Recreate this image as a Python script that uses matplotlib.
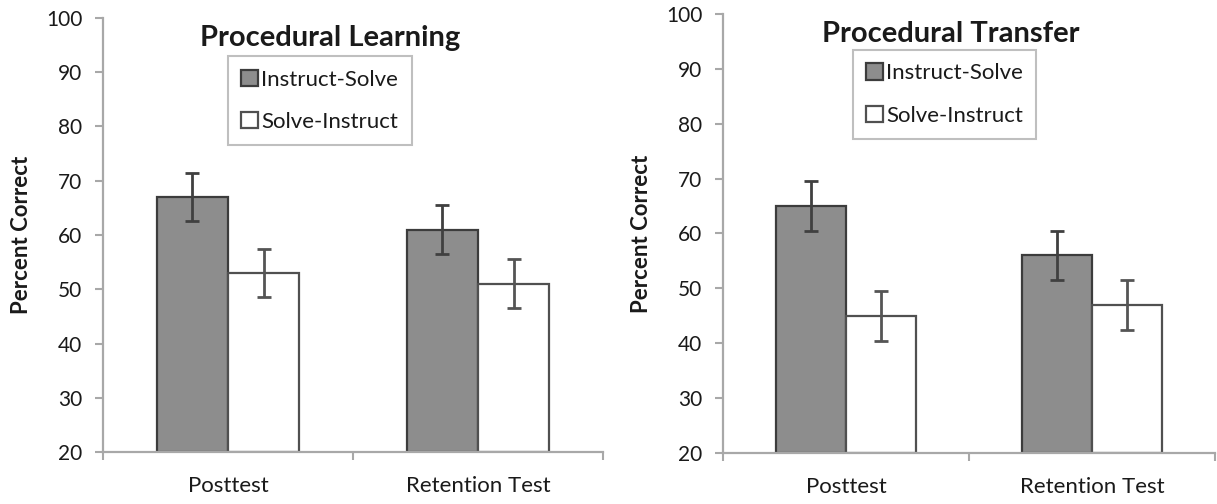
import numpy as np
import matplotlib.pyplot as plt

# data
categories = ["Posttest", "Retention Test"]
groups = ["Instruct-Solve", "Solve-Instruct"]
learning_is = [67, 61]
learning_si = [53, 51]
learning_err_is = [4.5, 4.5]
learning_err_si = [4.5, 4.5]
transfer_is = [65, 56]
transfer_si = [45, 47]
transfer_err_is = [4.5, 4.5]
transfer_err_si = [4.5, 4.5]

plt.rcParams['font.family'] = ['Lato', 'DejaVu Sans']

fig = plt.figure(figsize=(12.17, 5.04), dpi=100)
W, H = 1217, 504


def make_ax(x0, x1, ytop, ybot):
    return fig.add_axes([x0 / W, 1 - ybot / H, (x1 - x0) / W, (ybot - ytop) / H])


ax1 = make_ax(103, 603, 18, 452)
ax2 = make_ax(723, 1215, 14, 453)

gray = "#8d8d8d"
edge = "#3c3c3c"
spine = "#a8a8a8"
txt = "#1a1a1a"


def draw(ax, is_vals, si_vals, is_err, si_err, title, title_xy, leg_bbox):
    x = np.arange(len(categories))
    w = 0.285
    ax.bar(x - w / 2, np.array(is_vals) - 20, w, bottom=20, color=gray,
           edgecolor=edge, linewidth=1.6, label=groups[0])
    ax.bar(x + w / 2, np.array(si_vals) - 20, w, bottom=20, color="white",
           edgecolor="#505050", linewidth=1.6, label=groups[1])
    ax.errorbar(x - w / 2, is_vals, yerr=is_err, fmt="none", ecolor="#404040",
                elinewidth=2, capsize=5, capthick=2)
    ax.errorbar(x + w / 2, si_vals, yerr=si_err, fmt="none", ecolor="#555555",
                elinewidth=2, capsize=5, capthick=2)
    ax.set_xlim(-0.5, 1.5)
    ax.set_ylim(20, 100)
    ax.set_yticks(range(20, 101, 10))
    ax.set_xticks(x)
    ax.set_xticklabels(categories, fontsize=16, color=txt)
    ax.set_xticks([-0.5, 0.5, 1.5], minor=True)
    ax.tick_params(axis="x", which="major", length=0, pad=17)
    ax.tick_params(axis="x", which="minor", length=6, width=1.5, color=spine, direction="out")
    ax.tick_params(axis="y", length=6, width=1.5, color=spine, labelsize=15,
                   labelcolor=txt, pad=9)
    for s in ["top", "right"]:
        ax.spines[s].set_visible(False)
    for s in ["left", "bottom"]:
        ax.spines[s].set_color(spine)
        ax.spines[s].set_linewidth(1.6)
    ax.set_ylabel("Percent Correct", fontsize=16, fontweight="bold", labelpad=10, color=txt)
    ax.text(title_xy[0], title_xy[1], title, transform=ax.transAxes, ha="center",
            va="center", fontsize=21, fontweight="bold", color=txt)
    leg = ax.legend(loc="upper left", bbox_to_anchor=leg_bbox, fontsize=16,
                    frameon=True, fancybox=False, handlelength=0.75, handleheight=0.75,
                    handletextpad=0.15, labelspacing=1.0, borderpad=0.6,
                    borderaxespad=0)
    for t in leg.get_texts():
        t.set_color(txt)
    leg.get_frame().set_edgecolor("#b0b0b0")
    leg.get_frame().set_linewidth(1.5)


draw(ax1, learning_is, learning_si, learning_err_is, learning_err_si,
     "Procedural Learning", (0.454, 0.955), (0.25, 0.912))
draw(ax2, transfer_is, transfer_si, transfer_err_is, transfer_err_si,
     "Procedural Transfer", (0.462, 0.955), (0.264, 0.918))

fig.savefig("out.png", dpi=100)
